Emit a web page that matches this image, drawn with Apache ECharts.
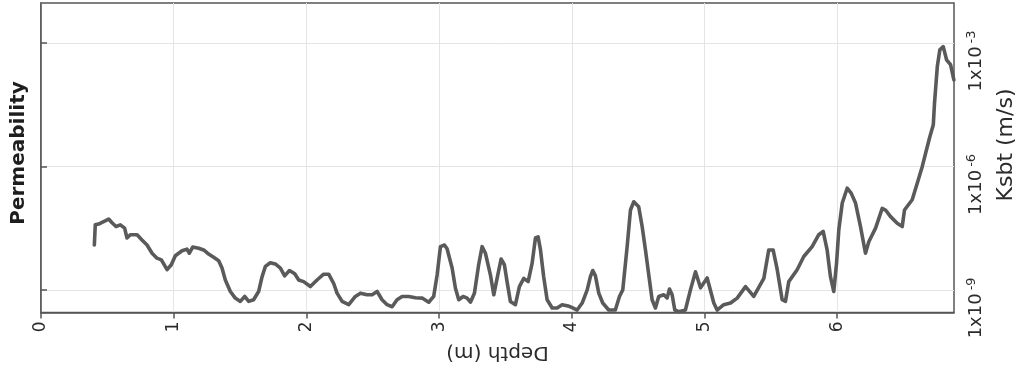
<!DOCTYPE html>
<html>
<head>
<meta charset="utf-8">
<script src="https://cdn.jsdelivr.net/npm/echarts@6/dist/echarts.min.js"></script>
<style>
  html, body { margin: 0; padding: 0; background: #ffffff; }
  #chart { width: 1019px; height: 374px; }
</style>
</head>
<body>
<div id="chart"></div>
<script>
// Depth below surface (m)
const depth = [
  0.402, 0.409, 0.434, 0.472, 0.510, 0.535, 0.565, 0.598, 0.630, 0.648,
  0.673, 0.724, 0.761, 0.799, 0.837, 0.874, 0.907, 0.950, 0.982, 1.012,
  1.063, 1.100, 1.118, 1.143, 1.188, 1.226, 1.263, 1.301, 1.339, 1.364,
  1.389, 1.427, 1.464, 1.502, 1.535, 1.565, 1.602, 1.640, 1.666, 1.691,
  1.728, 1.766, 1.804, 1.836, 1.872, 1.912, 1.942, 1.979, 1.992, 2.030,
  2.080, 2.130, 2.168, 2.205, 2.231, 2.269, 2.319, 2.369, 2.407, 2.457,
  2.495, 2.533, 2.570, 2.608, 2.646, 2.683, 2.721, 2.771, 2.821, 2.872,
  2.922, 2.959, 2.985, 3.010, 3.040, 3.060, 3.098, 3.123, 3.148, 3.181,
  3.211, 3.236, 3.266, 3.298, 3.324, 3.349, 3.387, 3.412, 3.437, 3.467,
  3.492, 3.512, 3.537, 3.575, 3.605, 3.638, 3.671, 3.701, 3.726, 3.746,
  3.764, 3.788, 3.814, 3.852, 3.889, 3.927, 3.972, 4.007, 4.040, 4.078,
  4.116, 4.140, 4.158, 4.178, 4.203, 4.233, 4.278, 4.328, 4.359, 4.384,
  4.417, 4.442, 4.467, 4.504, 4.530, 4.555, 4.580, 4.605, 4.630, 4.655,
  4.693, 4.718, 4.736, 4.756, 4.776, 4.806, 4.856, 4.894, 4.932, 4.970,
  5.020, 5.070, 5.095, 5.145, 5.196, 5.246, 5.309, 5.371, 5.447, 5.484,
  5.517, 5.548, 5.585, 5.610, 5.635, 5.698, 5.748, 5.811, 5.861, 5.894,
  5.924, 5.949, 5.974, 5.995, 6.012, 6.038, 6.075, 6.105, 6.138, 6.175,
  6.213, 6.238, 6.289, 6.339, 6.364, 6.402, 6.452, 6.490, 6.507, 6.565,
  6.603, 6.641, 6.666, 6.698, 6.724, 6.733, 6.754, 6.773, 6.799, 6.824,
  6.854, 6.879
];

// log10 of the SBT hydraulic conductivity Ksbt (m/s) at each depth
const logKsbt = [
  -7.91, -7.42, -7.40, -7.34, -7.28, -7.37, -7.46, -7.42, -7.50, -7.74,
  -7.66, -7.66, -7.79, -7.91, -8.11, -8.23, -8.27, -8.51, -8.39, -8.17,
  -8.05, -8.01, -8.11, -7.96, -7.99, -8.03, -8.13, -8.21, -8.29, -8.47,
  -8.76, -9.04, -9.20, -9.28, -9.16, -9.28, -9.24, -9.04, -8.68, -8.43,
  -8.34, -8.37, -8.47, -8.66, -8.53, -8.61, -8.76, -8.80, -8.84, -8.92,
  -8.76, -8.62, -8.62, -8.84, -9.08, -9.28, -9.36, -9.16, -9.08, -9.12,
  -9.12, -9.04, -9.24, -9.36, -9.41, -9.24, -9.16, -9.16, -9.19, -9.20,
  -9.30, -9.16, -8.64, -7.95, -7.91, -8.00, -8.47, -8.96, -9.24, -9.16,
  -9.20, -9.30, -9.08, -8.39, -7.95, -8.11, -8.64, -9.12, -8.72, -8.25,
  -8.39, -8.80, -9.28, -9.36, -8.92, -8.72, -8.80, -8.35, -7.74, -7.71,
  -8.03, -8.68, -9.24, -9.44, -9.44, -9.36, -9.39, -9.44, -9.49, -9.32,
  -9.00, -8.68, -8.53, -8.66, -9.08, -9.32, -9.49, -9.49, -9.16, -9.00,
  -7.95, -7.06, -6.86, -6.98, -7.46, -8.03, -8.64, -9.24, -9.44, -9.16,
  -9.12, -9.20, -8.98, -9.12, -9.49, -9.53, -9.49, -9.00, -8.56, -8.95,
  -8.71, -9.32, -9.49, -9.36, -9.32, -9.20, -8.92, -9.16, -8.72, -8.03,
  -8.03, -8.51, -9.24, -9.28, -8.80, -8.51, -8.19, -7.95, -7.66, -7.58,
  -8.03, -8.68, -9.04, -8.35, -7.54, -6.89, -6.53, -6.65, -6.89, -7.46,
  -8.11, -7.83, -7.50, -7.02, -7.06, -7.22, -7.38, -7.46, -7.06, -6.81,
  -6.41, -6.00, -5.68, -5.28, -4.99, -4.47, -3.58, -3.17, -3.09, -3.41,
  -3.53, -3.90
];

// Axis ticks
const depthTicks = [0, 1, 2, 3, 4, 5, 6];
const kExponentTicks = [-9, -6, -3];

const titleText = 'Permeability';
const depthName = 'Depth (m)';
const kName = 'Ksbt (m/s)';

const AXIS_COLOR = '#555555';
const TEXT_COLOR = '#2b2b2b';
const GRID_COLOR = '#e4e4e4';
const LINE_COLOR = '#5a5a5a';
const FONT = 'DejaVu Sans';

const chart = echarts.init(document.getElementById('chart'), null, { renderer: 'canvas' });

chart.setOption({
  animation: false,
  backgroundColor: '#ffffff',
  textStyle: { fontFamily: FONT },
  grid: {
    left: 41, right: 65, top: 3, bottom: 61.5,
    show: true, borderColor: AXIS_COLOR, borderWidth: 1.5,
    containLabel: false
  },
  xAxis: {
    type: 'value',
    min: depthTicks[0],
    max: 6.88,
    interval: 1,
    name: depthName,
    nameLocation: 'middle',
    nameGap: 30,
    nameRotate: 180,
    nameTextStyle: { fontSize: 20, color: TEXT_COLOR, fontFamily: FONT },
    axisLine: { show: true, lineStyle: { color: AXIS_COLOR, width: 1.5 } },
    axisTick: { show: true, length: 6, lineStyle: { color: AXIS_COLOR, width: 1.5 }, customValues: depthTicks },
    axisLabel: {
      customValues: depthTicks,
      rotate: 90, margin: 9, fontSize: 17, color: TEXT_COLOR, fontFamily: FONT,
      formatter: v => String(v)
    },
    splitLine: { show: true, lineStyle: { color: GRID_COLOR, width: 1 } }
  },
  yAxis: {
    type: 'value',
    position: 'right',
    min: -9.55,
    max: -2.03,
    axisLine: { show: true, lineStyle: { color: AXIS_COLOR, width: 1.5 } },
    axisTick: { show: true, length: 6, lineStyle: { color: AXIS_COLOR, width: 1.5 }, customValues: kExponentTicks },
    axisLabel: {
      customValues: kExponentTicks,
      rotate: 90, margin: 11, color: TEXT_COLOR, fontFamily: FONT, fontSize: 18,
      padding: [0, 36, 0, 0],
      formatter: v => '1x10{sup|' + v + '}',
      rich: {
        sup: { fontSize: 13, color: TEXT_COLOR, fontFamily: FONT, padding: [0, 0, 10, 3] }
      }
    },
    splitLine: { show: true, lineStyle: { color: GRID_COLOR, width: 1 } }
  },
  graphic: [
    {
      type: 'text', x: 19, y: 153, rotation: Math.PI / 2,
      style: {
        text: titleText, font: 'bold 20px "DejaVu Sans"', fill: '#1e1e1e',
        align: 'center', verticalAlign: 'middle'
      }
    },
    {
      type: 'text', x: 1006, y: 145, rotation: Math.PI / 2,
      style: {
        text: kName, font: '22px "DejaVu Sans"', fill: TEXT_COLOR,
        align: 'center', verticalAlign: 'middle'
      }
    }
  ],
  series: [{
    type: 'line',
    data: depth.map((d, i) => [d, logKsbt[i]]),
    showSymbol: false,
    smooth: false,
    lineStyle: { color: LINE_COLOR, width: 3.6, join: 'round', cap: 'round' },
    clip: true
  }]
});
</script>
</body>
</html>
